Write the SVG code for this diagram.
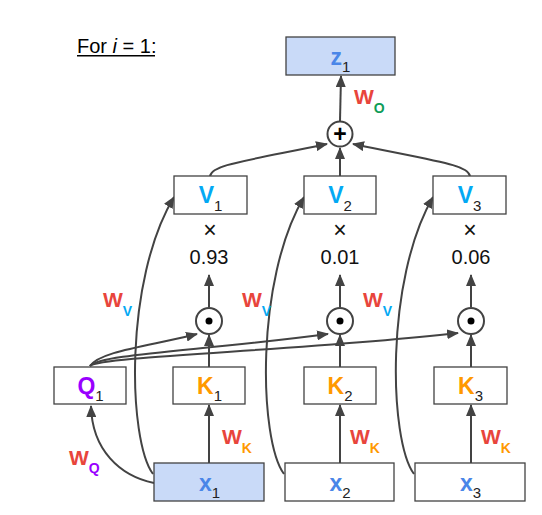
<svg xmlns="http://www.w3.org/2000/svg" width="542" height="515" viewBox="0 0 542 515">
<style>
text{font-family:"Liberation Sans",Arial,sans-serif}
.box{fill:#fff;stroke:#434343;stroke-width:1.3}
.hl{fill:#c9daf8}
.lbl{font-size:23px;font-weight:bold;text-anchor:middle}
.sub{font-size:15px;font-weight:normal;fill:#222}
.w{font-size:21px;font-weight:bold;fill:#e8453c}
.ws{font-size:14px;font-weight:bold}
.num{font-size:20px;fill:#111;text-anchor:middle}
.x{font-size:23px;fill:#111;text-anchor:middle}
.op{fill:#fff;stroke:#434343;stroke-width:2}
.c{fill:none;stroke:#434343;stroke-width:2;marker-end:url(#ah)}
</style>
<defs>
<marker id="ah" viewBox="0 0 12 10" refX="11" refY="5" markerWidth="12" markerHeight="10" markerUnits="userSpaceOnUse" orient="auto">
<path d="M0,0 L12,5 L0,10 z" fill="#434343"/>
</marker>
</defs>
<rect width="542" height="515" fill="#fff"/>
<g id="title">
<text x="77" y="53" font-size="20" fill="#000">For <tspan font-style="italic">i</tspan> = 1:</text>
<line x1="77" y1="55.8" x2="155" y2="55.8" stroke="#000" stroke-width="1.5"/>
</g>
<g id="connectors">
<path class="c" d="M340,121 L341,76"/>
<path class="c" d="M210,176 C212,165 240,162 327,144"/>
<path class="c" d="M340,176 L340,148"/>
<path class="c" d="M470,176 C468,165 440,162 353,144"/>
<path class="c" d="M209,307 L209,275"/>
<path class="c" d="M340,307 L340,275"/>
<path class="c" d="M471,307 L471,275"/>
<path class="c" d="M209,367 L209,335"/>
<path class="c" d="M340,367 L340,335"/>
<path class="c" d="M471,367 L471,335"/>
<path class="c" d="M209,463 L209,405"/>
<path class="c" d="M340,463 L340,405"/>
<path class="c" d="M471,463 L471,405"/>
<path class="c" d="M154,483 C120,476 92,450 91,406"/>
<path class="c" d="M153,474 C128,440 124,280 174,197"/>
<path class="c" d="M284,474 C259,440 255,280 304,197"/>
<path class="c" d="M414,474 C389,440 385,280 433,197"/>
<path class="c" d="M90,366 C100,351 150,346 197,334"/>
<path class="c" d="M90,366 C100,354 200,351 328,334"/>
<path class="c" d="M90,366 C100,356 300,351 458,333"/>
</g>
<g id="z1">
<rect class="box hl" x="286" y="37" width="109" height="38"/>
<text class="lbl" x="340.5" y="65" fill="#4a86e8">z<tspan class="sub" dy="7">1</tspan></text>
</g>
<g id="plus">
<circle class="op" cx="340" cy="134" r="12.5"/>
<text x="340" y="142" font-size="23" font-weight="bold" text-anchor="middle" fill="#000">+</text>
</g>
<g id="v1">
<rect class="box" x="174" y="176" width="73" height="38"/>
<text class="lbl" x="210.5" y="203" fill="#03a9f4">V<tspan class="sub" dy="8">1</tspan></text>
</g>
<g id="v2">
<rect class="box" x="304" y="176" width="72" height="38"/>
<text class="lbl" x="340" y="203" fill="#03a9f4">V<tspan class="sub" dy="8">2</tspan></text>
</g>
<g id="v3">
<rect class="box" x="433" y="176" width="73" height="38"/>
<text class="lbl" x="469.5" y="203" fill="#03a9f4">V<tspan class="sub" dy="8">3</tspan></text>
</g>
<g id="weights">
<text class="x" x="210" y="238">×</text>
<text class="num" x="209" y="264">0.93</text>
<text class="x" x="340" y="238">×</text>
<text class="num" x="340" y="264">0.01</text>
<text class="x" x="470" y="238">×</text>
<text class="num" x="471" y="264">0.06</text>
</g>
<g id="dot1">
<circle class="op" cx="209" cy="321" r="13"/>
<circle cx="209" cy="321" r="3.5" fill="#000"/>
</g>
<g id="dot2">
<circle class="op" cx="340" cy="321" r="13"/>
<circle cx="340" cy="321" r="3.5" fill="#000"/>
</g>
<g id="dot3">
<circle class="op" cx="471" cy="321" r="13"/>
<circle cx="471" cy="321" r="3.5" fill="#000"/>
</g>
<g id="q1">
<rect class="box" x="54" y="367" width="72" height="37"/>
<text class="lbl" x="90.5" y="394" fill="#9900ff">Q<tspan class="sub" dy="7">1</tspan></text>
</g>
<g id="k1">
<rect class="box" x="173" y="367" width="72" height="37"/>
<text class="lbl" x="209.5" y="394" fill="#ff9900">K<tspan class="sub" dy="7">1</tspan></text>
</g>
<g id="k2">
<rect class="box" x="304" y="367" width="72" height="37"/>
<text class="lbl" x="340" y="394" fill="#ff9900">K<tspan class="sub" dy="7">2</tspan></text>
</g>
<g id="k3">
<rect class="box" x="434" y="367" width="73" height="37"/>
<text class="lbl" x="470.5" y="394" fill="#ff9900">K<tspan class="sub" dy="7">3</tspan></text>
</g>
<g id="x1">
<rect class="box hl" x="154" y="463" width="110" height="38"/>
<text class="lbl" x="209.5" y="491" fill="#4a86e8">x<tspan class="sub" dy="7">1</tspan></text>
</g>
<g id="x2">
<rect class="box" x="285" y="463" width="109" height="38"/>
<text class="lbl" x="340" y="491" fill="#4a86e8">x<tspan class="sub" dy="7">2</tspan></text>
</g>
<g id="x3">
<rect class="box" x="415" y="463" width="110" height="38"/>
<text class="lbl" x="470.5" y="491" fill="#4a86e8">x<tspan class="sub" dy="7">3</tspan></text>
</g>
<g id="labels">
<text class="w" x="354" y="104">W<tspan class="ws" dy="9" fill="#0f9d58">O</tspan></text>
<text class="w" x="103" y="307">W<tspan class="ws" dy="9" fill="#03a9f4">V</tspan></text>
<text class="w" x="242" y="307">W<tspan class="ws" dy="9" fill="#03a9f4">V</tspan></text>
<text class="w" x="363" y="307">W<tspan class="ws" dy="9" fill="#03a9f4">V</tspan></text>
<text class="w" x="222" y="444">W<tspan class="ws" dy="9" fill="#ff9900">K</tspan></text>
<text class="w" x="350" y="444">W<tspan class="ws" dy="9" fill="#ff9900">K</tspan></text>
<text class="w" x="481" y="444">W<tspan class="ws" dy="9" fill="#ff9900">K</tspan></text>
<text class="w" x="69" y="465">W<tspan class="ws" dy="8" fill="#9900ff">Q</tspan></text>
</g>
</svg>
